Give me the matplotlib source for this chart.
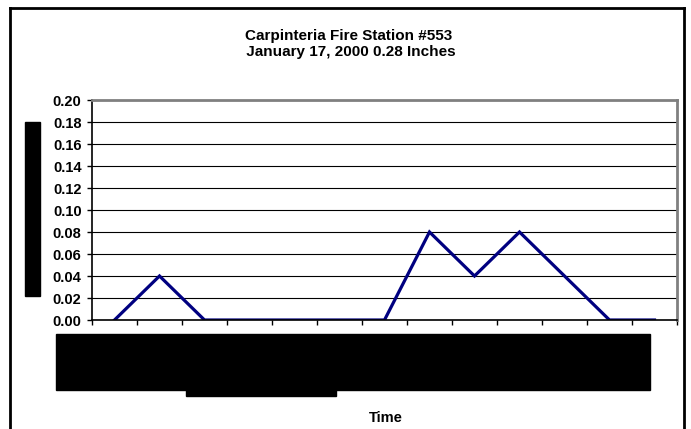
import matplotlib.pyplot as plt
from matplotlib.patches import Rectangle
from matplotlib.lines import Line2D

plt.rcParams['font.family'] = ['Liberation Sans', 'DejaVu Sans']

# rainfall per time step (inches)
rain = [0.00, 0.04, 0.00, 0.00, 0.00, 0.00, 0.00, 0.08, 0.04, 0.08, 0.04, 0.00, 0.00]
y_ticks = [0.00, 0.02, 0.04, 0.06, 0.08, 0.10, 0.12, 0.14, 0.16, 0.18, 0.20]
titulo = "Carpinteria Fire Station #553\n January 17, 2000 0.28 Inches"

W, H = 691, 429
fig = plt.figure(figsize=(W / 100, H / 100), dpi=100)

def px(x0, y0, x1, y1):
    # pixel box (top-left origin) -> figure fraction rect
    return (x0 / W, 1 - y1 / H, (x1 - x0) / W, (y1 - y0) / H)

ax = fig.add_axes(px(92, 100, 677, 320))

x = list(range(len(rain)))
ax.plot(x, rain, color='#000080', linewidth=2.3, solid_joinstyle='miter')

ax.set_xlim(-0.5, len(rain) - 0.5)
ax.set_ylim(0, 0.20)
ax.set_yticks(y_ticks)
ax.set_yticklabels([f"{v:.2f}" for v in y_ticks], fontsize=10.5, fontweight='bold')
ax.set_xticks([i - 0.5 for i in range(len(rain) + 1)])
ax.set_xticklabels([])
ax.tick_params(axis='y', direction='out', length=3.5, width=1, pad=4)
ax.tick_params(axis='x', direction='out', length=3.5, width=1)

ax.grid(axis='y', color='black', linewidth=0.8)
ax.set_axisbelow(True)
ax.spines['left'].set_linewidth(1.2)
ax.spines['bottom'].set_linewidth(1.2)
for s in ['top', 'right']:
    ax.spines[s].set_color('#808080')
    ax.spines[s].set_linewidth(2)

fig.text(349 / W, 1 - 44 / H, titulo, ha='center', va='center',
         fontsize=11, fontweight='bold', linespacing=1.2)
fig.text(386 / W, 1 - 418 / H, "Time", ha='center', va='center',
         fontsize=10.5, fontweight='bold')

# redacted label boxes
for box in [(25, 122, 40, 296), (56, 334, 650, 390), (186, 389, 336, 396)]:
    fig.patches.append(Rectangle(px(*box)[:2], px(*box)[2], px(*box)[3],
                                 transform=fig.transFigure, color='black'))

# chart frame
for (xa, ya, xb, yb) in [(10, 7.5, 10, 429), (10, 7.5, 684, 7.5), (684, 7.5, 684, 429)]:
    fig.lines.append(Line2D([xa / W, xb / W], [1 - ya / H, 1 - yb / H],
                            transform=fig.transFigure, color='black', linewidth=2))

fig.savefig("out.png", dpi=100)
